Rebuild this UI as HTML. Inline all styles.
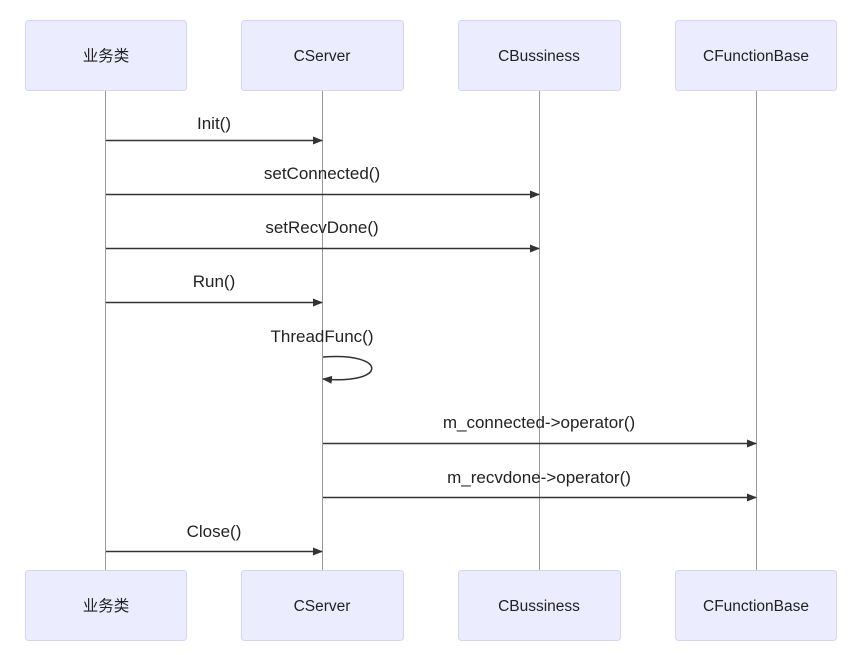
<!DOCTYPE html>
<html><head><meta charset="utf-8"><style>body{margin:0;background:#fff}</style></head><body>
<svg width="854" height="655" xmlns="http://www.w3.org/2000/svg" style="display:block">
<defs><marker id="a" markerWidth="10" markerHeight="8" refX="9" refY="4" orient="auto" markerUnits="userSpaceOnUse"><path d="M0,0 L10,4 L0,8 z" fill="#333"/></marker></defs>
<g stroke="#999" stroke-width="1">
<line x1="105.5" y1="91" x2="105.5" y2="570"/><line x1="322.5" y1="91" x2="322.5" y2="570"/>
<line x1="539.5" y1="91" x2="539.5" y2="570"/><line x1="756.5" y1="91" x2="756.5" y2="570"/>
</g>
<g fill="#ECECFF" stroke="#d6d3fb" stroke-width="1">
<rect x="25.5" y="20.5" width="161" height="70" rx="3"/><rect x="241.5" y="20.5" width="162" height="70" rx="3"/>
<rect x="458.5" y="20.5" width="162" height="70" rx="3"/><rect x="675.5" y="20.5" width="161" height="70" rx="3"/>
<rect x="25.5" y="570.5" width="161" height="70" rx="3"/><rect x="241.5" y="570.5" width="162" height="70" rx="3"/>
<rect x="458.5" y="570.5" width="162" height="70" rx="3"/><rect x="675.5" y="570.5" width="161" height="70" rx="3"/>
</g>
<g font-family="Liberation Sans, Noto Sans CJK SC, sans-serif" font-size="15.5" fill="#222" text-anchor="middle">
<text x="106" y="61">业务类</text><text x="322" y="61">CServer</text><text x="539" y="61">CBussiness</text><text x="756" y="61">CFunctionBase</text>
<text x="106" y="611">业务类</text><text x="322" y="611">CServer</text><text x="539" y="611">CBussiness</text><text x="756" y="611">CFunctionBase</text>
</g>
<g font-family="Liberation Sans, sans-serif" font-size="17" fill="#222" text-anchor="middle">
<text x="214" y="129">Init()</text><text x="322" y="179">setConnected()</text><text x="322" y="233">setRecvDone()</text>
<text x="214" y="287">Run()</text><text x="322" y="342">ThreadFunc()</text>
<text x="539" y="428">m_connected-&gt;operator()</text><text x="539" y="483">m_recvdone-&gt;operator()</text>
<text x="214" y="537">Close()</text>
</g>
<g stroke="#333" stroke-width="1.5" fill="none" marker-end="url(#a)">
<line x1="106" y1="140.5" x2="322" y2="140.5"/><line x1="106" y1="194.5" x2="539" y2="194.5"/>
<line x1="106" y1="248.5" x2="539" y2="248.5"/><line x1="106" y1="302.5" x2="322" y2="302.5"/>
<path d="M323,357 C388,352 388,385 323,379"/>
<line x1="323" y1="443.5" x2="756" y2="443.5"/><line x1="323" y1="497.5" x2="756" y2="497.5"/>
<line x1="106" y1="551.5" x2="322" y2="551.5"/>
</g>
</svg>
</body></html>
